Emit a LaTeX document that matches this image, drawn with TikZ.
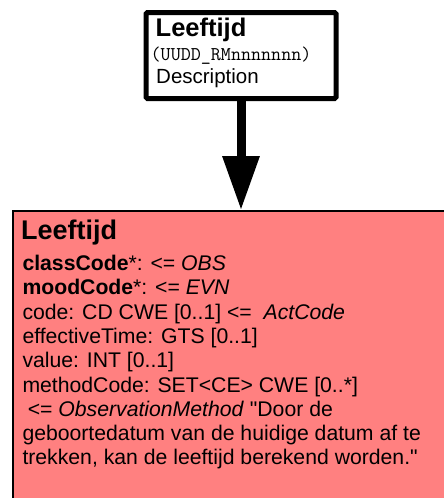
\documentclass[tikz,border=0pt]{standalone}
\usepackage{fontspec}
\setmainfont{Liberation Sans}
\usetikzlibrary{positioning}
\usetikzlibrary{arrows.meta}
\definecolor{actpink}{RGB}{255,128,128}

\begin{document}
\begin{tikzpicture}[x=1pt, y=-1pt,
    every node/.style={inner sep=0pt, anchor=base west},
    txt/.style={font=\fontsize{20.5}{24}\selectfont},
    ttl/.style={font=\fontsize{25.5}{28}\selectfont\bfseries},
    cmt/.style={font=\fontsize{19.5}{22}\selectfont\ttfamily},
    topbox/.style={draw, line width=5pt, rounded corners=1.5pt, fill=white, anchor=center, minimum width=190pt, minimum height=86pt},
    actbox/.style={draw, line width=1.6pt, fill=actpink, anchor=center, minimum width=467pt, minimum height=329pt},
    inherit/.style={line width=9pt, -{Triangle[length=54pt, width=35pt]}}]
            \useasboundingbox (0,0) rectangle (444,498);
            \clip (0,0) rectangle (444,498);

            \node[topbox] (top) at (241, 55.5) {};
            \node[ttl] (ttop) at (155.5, 36) {Leeftijd};
            \node[cmt] (ctop) at (150.5, 60.5) {(UUDD\_RMnnnnnnn)};
            \node[txt] (dtop) at (156, 83) {Description};

            \node[actbox] (act) at (246.5, 375.5) {};
            \node[ttl, font=\fontsize{27}{30}\selectfont\bfseries] (tact) at (21, 239.5) {Leeftijd};
            % base of a multi-line node is its last line
            \node[txt, align=left, font=\fontsize{21.2}{24.3}\selectfont] (body) at (22.3, 464.9) {%
                \textbf{classCode}*: <= \textit{OBS}\\
                \textbf{moodCode}*: <= \textit{EVN}\\
                code: CD CWE [0..1] <= \ \textit{ActCode}\\
                effectiveTime: GTS [0..1]\\
                value: INT [0..1]\\
                methodCode: SET<CE> CWE [0..*]\\
                \hspace{0.25em}<= \textit{ObservationMethod} \textquotedbl Door de\\
                geboortedatum van de huidige datum af te\\
                trekken, kan de leeftijd berekend worden.\textquotedbl};

            \draw[inherit] (top.south) -- (top.south |- act.north);
        \end{tikzpicture}
\end{document}
